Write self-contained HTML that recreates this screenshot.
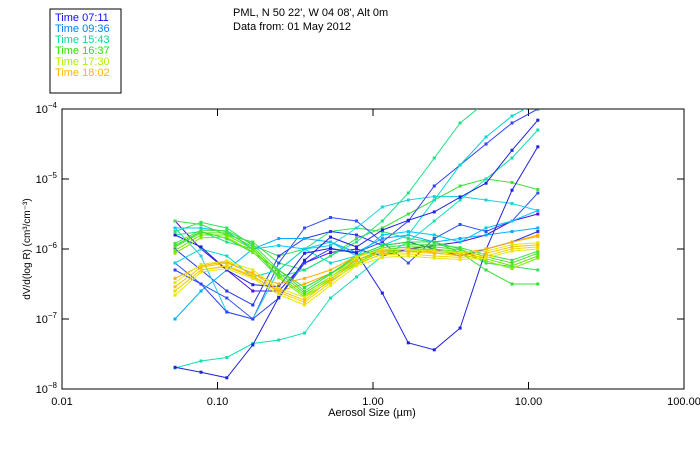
<!DOCTYPE html>
<html><head><meta charset="utf-8"><style>
body{margin:0;background:#fff}
svg{display:block;font-family:"Liberation Sans",sans-serif}
</style></head><body>
<svg id="c" width="700" height="450" viewBox="0 0 700 450">
<rect x="50" y="9" width="71" height="84" fill="#fff" stroke="#000"/>
<g id="legend" font-size="11"></g>
<text x="233" y="16" font-size="11">PML, N 50 22', W 04 08', Alt 0m</text>
<text x="233" y="30" font-size="11">Data from: 01 May 2012</text>
<g id="axes"></g>
<g id="plot"></g>
<text x="372" y="416" font-size="11" text-anchor="middle">Aerosol Size (µm)</text>
<text transform="translate(30,249) rotate(-90)" font-size="10" text-anchor="middle">dV/d(log R) (cm³/cm⁻³)</text>
</svg>
<script>
// Data (log10 of dV/dlogR) for 15 size bins
const binsLog10Size = [-1.273,-1.106,-0.94,-0.773,-0.606,-0.44,-0.273,-0.106,0.06,0.227,0.394,0.56,0.727,0.894,1.06];
const xTicks = [0.01,0.10,1.00,10.00,100.00];
const xTickLabels = ["0.01","0.10","1.00","10.00","100.00"];
const yTicks = [-4,-5,-6,-7,-8];
const legendLabels = ["Time 07:11","Time 09:36","Time 15:43","Time 16:37","Time 17:30","Time 18:02"];
const legendColors = ["#1010f0","#0080ff","#00e090","#30e000","#b0f000","#ffb800"];
const seriesColors = ["#ffc000","#f0d800","#e8e800","#d8f000","#ffb000","#50e020","#40e040","#60e800","#80e800","#30e030","#2020e0","#2020e0","#00c8ff","#20e080","#00d8d0","#3040ff","#10e0b0","#00b0ff","#20d0e0","#3050f0","#2838e8","#40e040","#30e060","#5010e0","#ffb000"];
const seriesValues = [
[-6.54,-6.26,-6.2,-6.34,-6.59,-6.73,-6.44,-6.16,-6.04,-6.04,-6.06,-6.09,-6.06,-5.97,-5.94],
[-6.6,-6.3,-6.24,-6.38,-6.62,-6.76,-6.48,-6.2,-6.08,-6.07,-6.1,-6.12,-6.1,-6.0,-5.97],
[-6.66,-6.33,-6.28,-6.42,-6.65,-6.8,-6.52,-6.24,-6.12,-6.1,-6.13,-6.15,-6.13,-6.03,-6.0],
[-6.48,-6.22,-6.17,-6.3,-6.56,-6.69,-6.4,-6.12,-6.0,-6.01,-6.03,-6.05,-6.03,-5.94,-5.91],
[-6.42,-6.24,-6.18,-6.36,-6.5,-6.42,-6.3,-6.1,-6.02,-6.0,-6.02,-6.06,-6.0,-5.9,-5.82],
[-5.97,-5.77,-5.77,-5.97,-6.34,-6.63,-6.4,-6.16,-6.01,-5.97,-5.97,-6.01,-6.11,-6.2,-6.06],
[-5.92,-5.73,-5.74,-5.93,-6.3,-6.6,-6.36,-6.12,-5.98,-5.94,-5.94,-5.98,-6.08,-6.16,-6.03],
[-6.02,-5.8,-5.8,-6.0,-6.38,-6.66,-6.43,-6.19,-6.04,-6.0,-6.0,-6.04,-6.14,-6.24,-6.1],
[-6.06,-5.84,-5.83,-6.04,-6.41,-6.69,-6.46,-6.22,-6.07,-6.03,-6.03,-6.07,-6.17,-6.28,-6.13],
[-5.95,-5.75,-5.85,-6.05,-6.3,-6.55,-6.35,-6.1,-5.95,-5.9,-5.9,-6.05,-6.3,-6.5,-6.5],
[-5.8,-5.97,-6.3,-6.51,-6.54,-6.06,-5.99,-6.06,-6.63,-7.34,-7.44,-7.13,-6.01,-5.16,-4.54],
[-7.69,-7.76,-7.84,-7.37,-6.69,-6.16,-5.83,-5.97,-5.73,-5.59,-5.47,-5.26,-5.06,-4.59,-4.16],
[-5.7,-5.7,-5.75,-6.0,-5.95,-6.0,-5.9,-6.1,-5.8,-5.75,-5.8,-5.9,-5.7,-5.6,-5.45],
[-5.8,-5.75,-5.9,-6.0,-6.4,-6.3,-6.1,-5.9,-5.6,-5.2,-4.7,-4.2,-3.9,-3.8,-3.8],
[-6.2,-6.0,-6.1,-6.4,-6.3,-6.0,-6.2,-6.1,-5.95,-5.8,-5.3,-4.8,-4.4,-4.1,-3.9],
[-6.3,-6.5,-6.9,-7.0,-6.7,-6.2,-6.0,-6.05,-5.9,-5.6,-5.1,-4.8,-4.5,-4.2,-4.0],
[-7.7,-7.6,-7.55,-7.35,-7.3,-7.2,-6.7,-6.4,-6.1,-5.9,-5.6,-5.3,-5.0,-4.7,-4.3],
[-7.0,-6.6,-6.3,-6.0,-5.85,-5.85,-5.9,-6.05,-5.85,-5.8,-5.9,-5.85,-5.8,-5.75,-5.7],
[-5.7,-6.1,-6.9,-7.0,-6.3,-6.0,-5.95,-5.7,-5.4,-5.3,-5.25,-5.25,-5.3,-5.35,-5.45],
[-6.2,-6.5,-6.7,-7.0,-6.2,-5.7,-5.55,-5.6,-5.9,-6.2,-5.85,-5.65,-5.75,-5.6,-5.2],
[-6.0,-6.3,-6.6,-6.8,-6.1,-5.85,-5.75,-5.8,-5.95,-5.9,-6.0,-6.1,-6.0,-5.9,-5.75],
[-5.6,-5.65,-5.8,-5.9,-6.2,-6.3,-6.1,-5.85,-5.7,-5.5,-5.3,-5.1,-5.0,-5.05,-5.15],
[-5.75,-5.62,-5.7,-5.95,-6.1,-6.0,-5.75,-5.7,-5.75,-5.85,-5.9,-6.0,-6.2,-6.25,-6.3],
[-5.6,-6.0,-6.3,-6.6,-6.6,-6.2,-6.05,-6.0,-6.1,-6.0,-5.95,-5.9,-5.8,-5.6,-5.5],
[-6.6,-6.3,-6.25,-6.4,-6.6,-6.5,-6.35,-6.15,-6.05,-6.0,-6.05,-6.1,-6.0,-5.9,-5.8]
];
const NS='http://www.w3.org/2000/svg';
const L=62,R=684,T=109,B=389;
const xs=v=>L+(v+2)/4*(R-L);           // v = log10 size
const ys=v=>T+(-4-v)/4*(B-T);           // v = log10 dV
function mk(tag,attrs,parent){const e=document.createElementNS(NS,tag);for(const k in attrs)e.setAttribute(k,attrs[k]);parent.appendChild(e);return e;}
const axes=document.getElementById('axes'),plot=document.getElementById('plot'),leg=document.getElementById('legend');
const frame=mk('rect',{x:L,y:T,width:R-L,height:B-T,fill:'none',stroke:'#000'},axes);


xTicks.forEach((t,i)=>{const x=xs(Math.log10(t));
 const a=mk('line',{x1:x,x2:x,y1:B,y2:B-7,stroke:'#000'},axes);
 
 
 const b=mk('line',{x1:x,x2:x,y1:T,y2:T+7,stroke:'#000'},axes);
 
 
 const tx=mk('text',{x:x,y:405,'font-size':11,'text-anchor':'middle'},axes);tx.textContent=xTickLabels[i];
 
 
});
yTicks.forEach(t=>{const y=ys(t);
 const a=mk('line',{x1:L,x2:L+7,y1:y,y2:y,stroke:'#000'},axes);
 
 
 const b=mk('line',{x1:R,x2:R-7,y1:y,y2:y,stroke:'#000'},axes);
 
 
 const tx=mk('text',{x:57,y:y+4,'font-size':11,'text-anchor':'end'},axes);
 tx.textContent='10';
 const sp=mk('tspan',{dy:-5,'font-size':8},tx);sp.textContent=String(t).replace('-','−');
 
 
});
const clip=mk('clipPath',{id:'pc'},plot);mk('rect',{x:L,y:T,width:R-L,height:B-T},clip);
const g=mk('g',{'clip-path':'url(#pc)'},plot);
seriesValues.slice().reverse().forEach((s,ri)=>{const i=seriesValues.length-1-ri;const col=seriesColors[i];
 const pts=s.map((v,j)=>xs(binsLog10Size[j]).toFixed(1)+','+ys(v).toFixed(1)).join(' ');
 const pl=mk('polyline',{points:pts,fill:'none',stroke:col,'stroke-width':1},g);
 
 
 s.forEach((v,j)=>{const m=mk('rect',{x:xs(binsLog10Size[j])-1.5,y:ys(v)-1.5,width:3,height:3,fill:col},g);
  
  });
});
legendLabels.forEach((l,i)=>{const t=mk('text',{x:55,y:21+i*11,fill:legendColors[i]},leg);t.textContent=l;
 
 });
</script>
</body></html>
